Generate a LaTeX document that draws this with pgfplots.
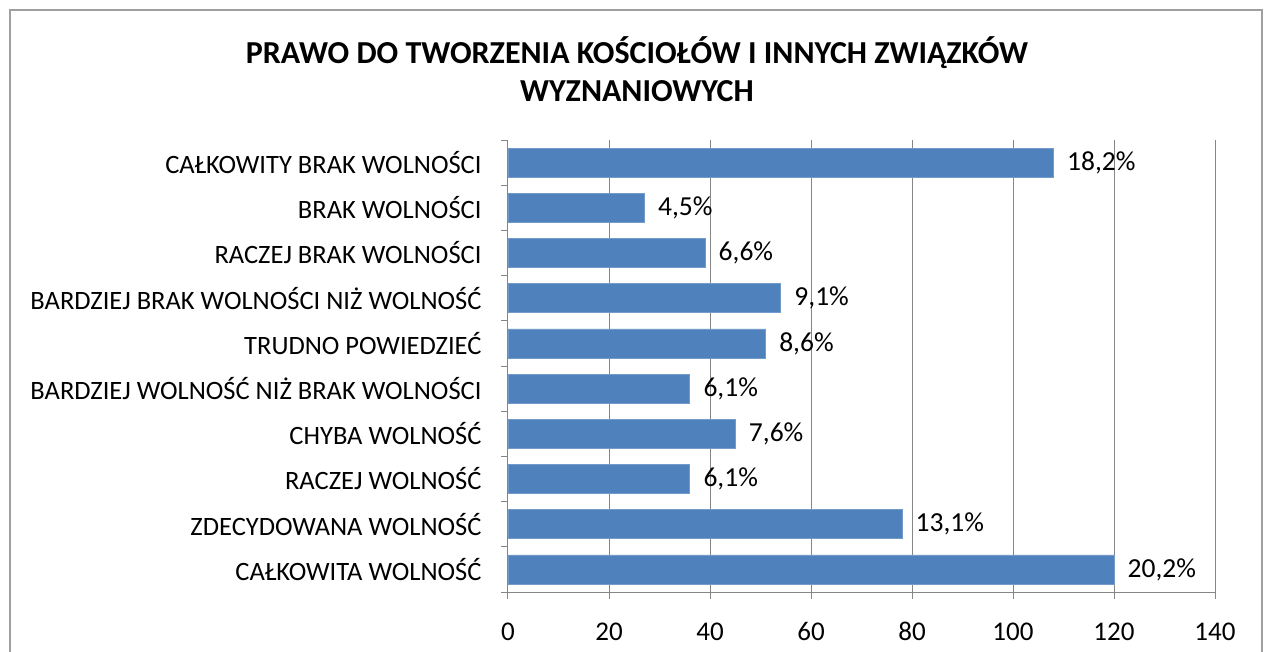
\documentclass[border=0pt]{standalone}
\usepackage{fontspec}
\setmainfont{Carlito}
\usepackage{pgfplots}
\usepackage{pgfplotstable}
\pgfplotsset{compat=1.18}
\definecolor{barblue}{HTML}{4F81BD}
\definecolor{gridgray}{HTML}{868686}
\pgfplotstableread{
y x lab
0 120 20,2\%
1 78 13,1\%
2 36 6,1\%
3 45 7,6\%
4 36 6,1\%
5 51 8,6\%
6 54 9,1\%
7 39 6,6\%
8 27 4,5\%
9 108 18,2\%
}\datatable
\begin{document}
\begin{tikzpicture}[x=1pt,y=1pt]
\path[use as bounding box] (0,0) rectangle (1266,-652);
\draw[gray!75, line width=2pt] (10,-720) -- (10,-10) -- (1262,-10) -- (1262,-720);
\node[font=\bfseries\fontsize{32}{38}\selectfont, align=center] at (637,-69) {PRAWO DO TWORZENIA KOŚCIOŁÓW I INNYCH ZWIĄZKÓW\\WYZNANIOWYCH};
\begin{axis}[
  at={(508pt,-592pt)}, anchor=south west,
  width=707pt, height=452pt, scale only axis,
  xbar, bar width=29pt,
  xmin=0, xmax=140, ymin=-0.5, ymax=9.5,
  xtick={0,20,...,140},
  ytick={0,...,9},
  yticklabels={CAŁKOWITA WOLNOŚĆ, ZDECYDOWANA WOLNOŚĆ, RACZEJ WOLNOŚĆ, CHYBA WOLNOŚĆ, BARDZIEJ WOLNOŚĆ NIŻ BRAK WOLNOŚCI, TRUDNO POWIEDZIEĆ, BARDZIEJ BRAK WOLNOŚCI NIŻ WOLNOŚĆ, RACZEJ BRAK WOLNOŚCI\ , BRAK WOLNOŚCI, CAŁKOWITY BRAK WOLNOŚCI\ },
  minor ytick={-0.5,0.5,...,9.5},
  major y tick style={draw=none},
  minor y tick style={gridgray, line width=1pt},
  major x tick style={gridgray, line width=1pt},
  major tick length=7pt, minor tick length=7pt,
  tick align=outside,
  axis x line*=bottom, axis y line*=left,
  axis line style={gridgray, line width=1pt},
  xmajorgrids, major grid style={gridgray, line width=1pt},
  /pgf/number format/assume math mode=true,
  yticklabel style={font=\fontsize{26.5}{28}\selectfont, xshift=-16pt},
  xticklabel style={font=\fontsize{27}{29}\selectfont, yshift=-20pt},
  point meta=explicit symbolic,
  nodes near coords,
  nodes near coords style={font=\fontsize{27.5}{29}\selectfont, anchor=west, xshift=10pt, text=black},
]
\addplot[fill=barblue, draw=barblue!80!white, line width=0.8pt] table[x=x, y=y, meta=lab] {\datatable};
\end{axis}
\end{tikzpicture}
\end{document}
